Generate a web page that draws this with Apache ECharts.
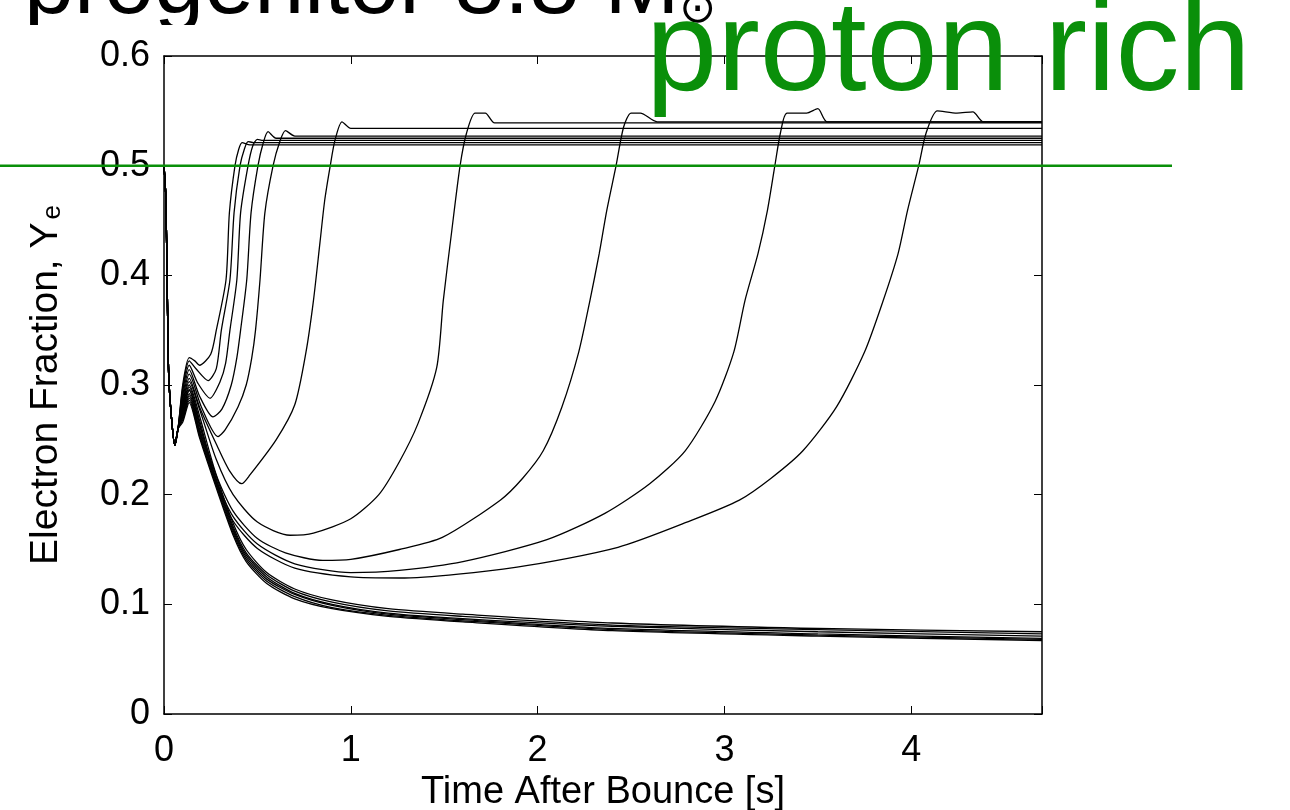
<!DOCTYPE html>
<html>
<head>
<meta charset="utf-8">
<script src="https://cdn.jsdelivr.net/npm/echarts@6/dist/echarts.min.js"></script>
<style>
  html, body { margin: 0; padding: 0; background: #fff; }
  #chart { width: 1290px; height: 810px; }
</style>
</head>
<body>
<div id="chart"></div>
<script>
// shared start of every trajectory: drop from 0.5 right after bounce
const startPts = [[0, 0.5], [0.01, 0.47], [0.018, 0.38], [0.025, 0.31], [0.04, 0.27], [0.058, 0.245], [0.075, 0.26]];

// early proton-rich trajectories
const curveA = [[0.1, 0.3], [0.135, 0.325], [0.165, 0.322], [0.19, 0.318], [0.25, 0.328], [0.28, 0.35], [0.332, 0.396], [0.35, 0.457], [0.38, 0.5], [0.4, 0.515], [0.418, 0.521], [0.46, 0.519], [4.7, 0.519]];
const curveB = [[0.1, 0.297], [0.135, 0.322], [0.17, 0.315], [0.236, 0.304], [0.28, 0.315], [0.307, 0.35], [0.353, 0.396], [0.375, 0.457], [0.407, 0.5], [0.43, 0.515], [0.45, 0.522], [0.48, 0.521], [4.7, 0.521]];
const curveC = [[0.1, 0.294], [0.135, 0.318], [0.18, 0.302], [0.246, 0.288], [0.3, 0.303], [0.33, 0.32], [0.353, 0.35], [0.39, 0.396], [0.41, 0.457], [0.45, 0.5], [0.475, 0.518], [0.5, 0.524], [0.53, 0.523], [4.7, 0.523]];
const curveD = [[0.1, 0.29], [0.135, 0.314], [0.19, 0.29], [0.262, 0.271], [0.31, 0.278], [0.36, 0.3], [0.39, 0.325], [0.41, 0.35], [0.443, 0.396], [0.466, 0.457], [0.503, 0.5], [0.53, 0.52], [0.557, 0.531], [0.6, 0.525], [4.7, 0.525]];
const curveE = [[0.1, 0.287], [0.135, 0.31], [0.2, 0.28], [0.289, 0.253], [0.327, 0.259], [0.396, 0.28], [0.44, 0.3], [0.47, 0.325], [0.49, 0.35], [0.514, 0.396], [0.54, 0.457], [0.584, 0.5], [0.62, 0.522], [0.65, 0.532], [0.7, 0.527], [4.7, 0.527]];
const curveF = [[0.1, 0.284], [0.135, 0.306], [0.19, 0.28], [0.283, 0.245], [0.35, 0.222], [0.416, 0.21], [0.46, 0.218], [0.6, 0.25], [0.7, 0.282], [0.76, 0.33], [0.8, 0.377], [0.835, 0.43], [0.86, 0.468], [0.89, 0.5], [0.915, 0.523], [0.953, 0.54], [1.0, 0.534], [4.7, 0.534]];

// late trajectories
const curveG = [[0.1, 0.282], [0.135, 0.303], [0.19, 0.278], [0.28, 0.232], [0.37, 0.2], [0.5, 0.175], [0.675, 0.163], [0.8, 0.165], [1.0, 0.178], [1.15, 0.2], [1.26, 0.23], [1.36, 0.265], [1.46, 0.316], [1.495, 0.377], [1.54, 0.44], [1.585, 0.5], [1.62, 0.53], [1.665, 0.548], [1.72, 0.548], [1.77, 0.539], [4.7, 0.539]];
const curveH = [[0.1, 0.28], [0.135, 0.3], [0.19, 0.272], [0.28, 0.218], [0.37, 0.185], [0.5, 0.16], [0.65, 0.147], [0.85, 0.14], [1.0, 0.141], [1.26, 0.15], [1.49, 0.161], [1.8, 0.195], [1.92, 0.215], [2.03, 0.24], [2.13, 0.28], [2.22, 0.33], [2.28, 0.377], [2.33, 0.42], [2.37, 0.459], [2.42, 0.5], [2.46, 0.535], [2.5, 0.548], [2.55, 0.548], [2.64, 0.54], [4.7, 0.54]];
const curveI = [[0.1, 0.278], [0.135, 0.298], [0.19, 0.268], [0.28, 0.213], [0.37, 0.18], [0.5, 0.155], [0.7, 0.137], [1.0, 0.129], [1.26, 0.131], [1.6, 0.139], [2.05, 0.159], [2.36, 0.183], [2.6, 0.21], [2.79, 0.24], [2.95, 0.285], [3.05, 0.33], [3.11, 0.377], [3.18, 0.42], [3.23, 0.459], [3.27, 0.5], [3.3, 0.53], [3.335, 0.548], [3.44, 0.548], [3.5, 0.552], [3.55, 0.54], [4.7, 0.54]];
const curveJ = [[0.1, 0.276], [0.135, 0.296], [0.19, 0.265], [0.28, 0.21], [0.37, 0.176], [0.5, 0.151], [0.7, 0.133], [1.0, 0.125], [1.26, 0.124], [1.89, 0.134], [2.43, 0.152], [2.83, 0.177], [3.08, 0.195], [3.25, 0.215], [3.42, 0.24], [3.6, 0.28], [3.75, 0.33], [3.85, 0.377], [3.93, 0.42], [3.98, 0.459], [4.04, 0.5], [4.08, 0.53], [4.14, 0.55], [4.245, 0.548], [4.33, 0.549], [4.385, 0.54], [4.7, 0.54]];

// neutron-rich bundle that never turns around
const bundleT = [0.1, 0.135, 0.19, 0.28, 0.37, 0.44, 0.55, 0.7, 0.9, 1.2, 1.6, 2.4, 3.5, 4.7];
const bundleK1 = [0.275, 0.295, 0.263, 0.217, 0.174, 0.150, 0.129, 0.114, 0.104, 0.096, 0.091, 0.083, 0.078, 0.075];
const bundleK2 = [0.273, 0.292, 0.260, 0.214, 0.171, 0.147, 0.127, 0.112, 0.102, 0.094, 0.089, 0.081, 0.077, 0.073];
const bundleK3 = [0.271, 0.290, 0.258, 0.212, 0.169, 0.145, 0.125, 0.110, 0.100, 0.092, 0.087, 0.080, 0.075, 0.071];
const bundleK4 = [0.270, 0.288, 0.256, 0.210, 0.167, 0.143, 0.123, 0.109, 0.099, 0.091, 0.086, 0.078, 0.073, 0.069];
const bundleK5 = [0.268, 0.286, 0.254, 0.208, 0.165, 0.141, 0.121, 0.107, 0.097, 0.090, 0.085, 0.077, 0.072, 0.068];
const bundleK6 = [0.266, 0.284, 0.252, 0.206, 0.163, 0.139, 0.119, 0.105, 0.096, 0.089, 0.084, 0.076, 0.071, 0.067];

const xTicks = [0, 1, 2, 3, 4];
const yTicks = ['0', '0.1', '0.2', '0.3', '0.4', '0.5', '0.6'];
const protonRichLevel = 0.5;

const FONT = '"Liberation Sans", Arial, Helvetica, sans-serif';

const chart = echarts.init(document.getElementById('chart'));

const curves = [curveA, curveB, curveC, curveD, curveE, curveF, curveG, curveH, curveI, curveJ];
const bundles = [bundleK1, bundleK2, bundleK3, bundleK4, bundleK5, bundleK6];

const lineSeries = curves.map(c => startPts.concat(c))
  .concat(bundles.map(b => startPts.concat(bundleT.map((t, i) => [t, b[i]]))))
  .map(data => ({
    type: 'line',
    xAxisIndex: 0,
    yAxisIndex: 0,
    data: data,
    showSymbol: false,
    smooth: 0.25,
    lineStyle: { color: '#000', width: 1.3 },
    silent: true,
    z: 2
  }));

const frameAxis = {
  z: 4,
  axisLine: { onZero: false, lineStyle: { color: '#000', width: 1.5 } },
  axisTick: { inside: true, length: 8, lineStyle: { color: '#000', width: 1 } },
  splitLine: { show: false }
};

chart.setOption({
  animation: false,
  title: [
    {
      text: '{a|progenitor 8.8 M}{s|⊙}',
      left: 19,
      top: -62,
      z: 1,
      textStyle: {
        rich: {
          a: { fontFamily: FONT, fontSize: 90, fontWeight: 'normal', color: '#000' },
          s: { fontFamily: '"DejaVu Sans", sans-serif', fontSize: 44, fontWeight: 'normal', color: '#000', verticalAlign: 'bottom' }
        }
      }
    },
    {
      text: 'proton rich',
      left: 641,
      top: -14,
      z: 8,
      textStyle: { fontFamily: FONT, fontSize: 128, fontWeight: 'normal', color: '#0a8f0a' }
    }
  ],
  // the plot panel hides the lower part of the slide title
  graphic: [
    { type: 'rect', z: 3, silent: true, shape: { x: 0, y: 25, width: 1290, height: 14 }, style: { fill: '#fff' } }
  ],
  grid: [
    { left: 164, right: 248, top: 56, bottom: 96, outerBoundsMode: 'none' },
    { left: 0, right: 118, top: 56, bottom: 96, outerBoundsMode: 'none' }
  ],
  xAxis: [
    Object.assign({
      type: 'value', gridIndex: 0, min: 0, max: 4.7, interval: 1, position: 'bottom',
      name: 'Time After Bounce [s]', nameLocation: 'middle', nameGap: 57,
      nameTextStyle: { fontFamily: FONT, fontSize: 38, color: '#000' },
      axisLabel: { fontFamily: FONT, fontSize: 36, color: '#000', margin: 19,
        formatter: v => xTicks.includes(v) ? String(v) : '' }
    }, frameAxis),
    Object.assign({
      type: 'value', gridIndex: 0, min: 0, max: 4.7, interval: 1, position: 'top',
      axisLabel: { show: false }
    }, frameAxis),
    { type: 'value', gridIndex: 1, min: 0, max: 1, show: false }
  ],
  yAxis: [
    Object.assign({
      type: 'value', gridIndex: 0, min: 0, max: 0.6, interval: 0.1, position: 'left',
      name: '{a|Electron Fraction, Y}{s|e}', nameLocation: 'middle', nameGap: 98, nameRotate: 90,
      nameTextStyle: {
        rich: {
          a: { fontFamily: FONT, fontSize: 39, color: '#000', lineHeight: 40 },
          s: { fontFamily: FONT, fontSize: 26, color: '#000', lineHeight: 40, verticalAlign: 'bottom', padding: [16, 0, 0, 3] }
        }
      },
      axisLabel: { fontFamily: FONT, fontSize: 36, color: '#000', margin: 14,
        formatter: v => yTicks[Math.round(v * 10)] }
    }, frameAxis),
    Object.assign({
      type: 'value', gridIndex: 0, min: 0, max: 0.6, interval: 0.1, position: 'right',
      axisLabel: { show: false }
    }, frameAxis),
    { type: 'value', gridIndex: 1, min: 0, max: 0.6, show: false }
  ],
  series: lineSeries.concat([
    {
      type: 'line',
      xAxisIndex: 2,
      yAxisIndex: 2,
      data: [[0, protonRichLevel], [1, protonRichLevel]],
      showSymbol: false,
      lineStyle: { color: '#0a8f0a', width: 2.5 },
      silent: true,
      z: 10
    }
  ])
});
</script>
</body>
</html>
